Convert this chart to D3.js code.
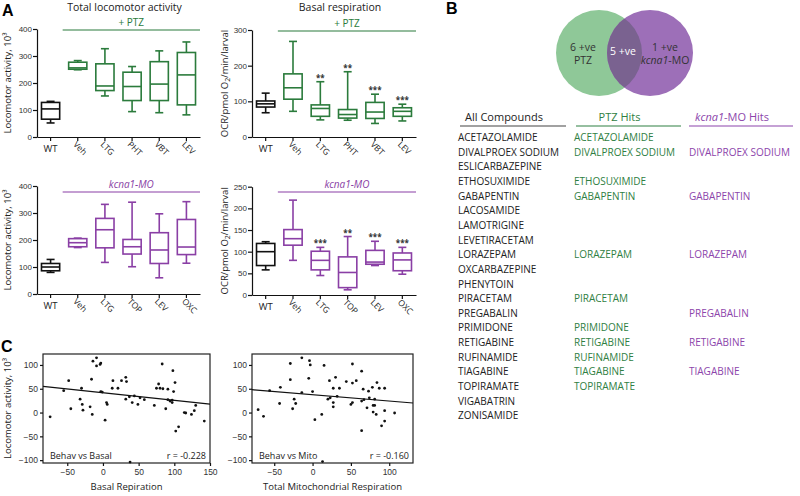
<!DOCTYPE html>
<html>
<head>
<meta charset="utf-8">
<script src="https://cdn.jsdelivr.net/npm/d3@7"></script>
<style>
  body { margin: 0; background: #fff; }
  svg { font-family: "Open Sans", sans-serif; }
  .axis path, .axis line { stroke: #111; stroke-width: 1.2; }
  .axis text { fill: #333; }
</style>
</head>
<body>
<div id="fig"></div>
<script>
// ----------------------------- DATA -----------------------------------------
// box plots: [min, q1, median, q3, max]
var ptzCats = ["WT", "Veh", "LTG", "PHT", "VBT", "LEV"];
var moCats = ["WT", "Veh", "LTG", "TOP", "LEV", "OXC"];

var ptzLoco = [[52, 66, 104, 128, 132], [249, 251, 256, 277, 283], [152, 172, 189, 271, 327],
               [94, 135, 187, 240, 261], [90, 135, 196, 279, 319], [82, 119, 230, 313, 352]];
var ptzBasal = [[68, 84, 93, 101, 123], [72, 106, 138, 177, 268], [48, 58, 80, 90, 155],
                [47, 53, 63, 77, 183], [38, 52, 70, 97, 120], [45, 58, 72, 82, 92]];
var ptzBasalStars = ["", "", "**", "**", "***", "***"];

var moLoco = [[80, 86, 100, 113, 128], [172, 175, 190, 205, 207], [117, 171, 238, 280, 332],
              [101, 148, 175, 202, 340], [60, 113, 163, 227, 297], [114, 146, 174, 276, 342]];
var moBasal = [[58, 68, 100, 119, 123], [80, 115, 130, 151, 219], [45, 58, 80, 101, 110],
               [12, 17, 52, 88, 135], [68, 71, 76, 103, 124], [48, 56, 81, 97, 110]];
var moBasalStars = ["", "", "***", "**", "***", "***"];

// scatter: [respiration, locomotor]
var basalPts = [[-74, -9], [-55, 46], [-48, 67], [-45, 8], [-32, 28], [-30, 51], [-29, 17], [-28, 5],
  [-18, 12], [-16, 70], [-15, -4], [-14, 108], [-9, 115], [-9, 98], [-4, 101], [-3, 104], [-3, 44],
  [-1, 43], [3, -16], [5, 21], [6, 17], [13, 51], [14, 67], [21, 51], [26, 67], [32, 74], [33, 65],
  [32, 28], [37, 33], [38, -104], [41, 21], [44, 35], [49, 17], [52, 31], [58, 27], [72, 15], [75, 51],
  [78, 60], [80, 51], [83, 102], [84, 50], [88, 8], [91, 49], [91, 27], [94, 24], [97, 26], [97, 21],
  [98, 88], [99, 44], [101, 63], [102, -39], [106, -30], [114, 0], [116, -1], [124, -4], [128, 4],
  [130, 15], [142, -18]];
var mitoPts = [[-71, 6], [-64, -8], [-56, 46], [-43, 19], [-42, 53], [-29, 103], [-29, 69], [-26, 8],
  [-24, 28], [-22, 19], [-14, 42], [-14, 115], [-5, 72], [-4, 109], [-3, 100], [0, 44], [3, -15],
  [12, -4], [13, -103], [15, 99], [20, 28], [22, 67], [23, 31], [27, 51], [27, 21], [27, 12], [30, 74],
  [32, 34], [35, 51], [44, 65], [50, 17], [52, 102], [52, 62], [52, 21], [57, 67], [64, 87], [64, -38],
  [64, 24], [66, 49], [67, 27], [71, 10], [73, 45], [74, 31], [78, 53], [79, 1], [79, 15], [81, 28],
  [81, 15], [83, -4], [84, 63], [87, 51], [90, -28], [94, 51], [94, -18], [94, 4], [107, -1]];
var basalFit = [41.6, -0.159];   // intercept, slope
var mitoFit = [37.5, -0.133];

// venn
var vennLeft = ["6 +ve", "PTZ"];
var vennMid = "5 +ve";
var vennRight = "1 +ve";

// compound table
var allCompounds = ["ACETAZOLAMIDE", "DIVALPROEX SODIUM", "ESLICARBAZEPINE", "ETHOSUXIMIDE",
  "GABAPENTIN", "LACOSAMIDE", "LAMOTRIGINE", "LEVETIRACETAM", "LORAZEPAM", "OXCARBAZEPINE",
  "PHENYTOIN", "PIRACETAM", "PREGABALIN", "PRIMIDONE", "RETIGABINE", "RUFINAMIDE", "TIAGABINE",
  "TOPIRAMATE", "VIGABATRIN", "ZONISAMIDE"];
var ptzHits = ["ACETAZOLAMIDE", "DIVALPROEX SODIUM", "", "ETHOSUXIMIDE", "GABAPENTIN", "", "", "",
  "LORAZEPAM", "", "", "PIRACETAM", "", "PRIMIDONE", "RETIGABINE", "RUFINAMIDE", "TIAGABINE",
  "TOPIRAMATE", "", ""];
var moHits = ["", "DIVALPROEX SODIUM", "", "", "GABAPENTIN", "", "", "", "LORAZEPAM", "", "", "",
  "PREGABALIN", "", "RETIGABINE", "", "TIAGABINE", "", "", ""];

// ----------------------------- SET UP ---------------------------------------
var green = "#2b7b3c", purple = "#8a3fa5", black = "#111";

var svg = d3.select("#fig").append("svg")
  .attr("width", 800)
  .attr("height", 496);

// panel letters
[["A", 2, 16], ["B", 446, 14], ["C", 1, 352]].forEach(function(p) {
  svg.append("text")
    .attr("x", p[1]).attr("y", p[2])
    .style("font-family", "'Liberation Sans', Arial, sans-serif")
    .style("font-weight", "bold")
    .style("font-size", "16px")
    .text(p[0]);
});

// ----------------------------- BOX PLOTS ------------------------------------
function boxPanel(o) {
  var g = svg.append("g");

  var x = d3.scaleBand()
    .domain(o.cats)
    .range([o.left, o.right])
    .paddingInner(0.33)
    .paddingOuter(0.165);

  var y = d3.scaleLinear()
    .domain([0, o.max])
    .range([o.bottom, o.top]);

  // y axis
  g.append("g")
    .attr("class", "axis")
    .attr("transform", `translate(${o.left},0)`)
    .call(d3.axisLeft(y).tickValues(o.ticks).tickSize(4).tickPadding(1).tickSizeOuter(0))
    .selectAll("text").style("font-size", "8px");

  // x axis
  var xa = g.append("g")
    .attr("class", "axis")
    .attr("transform", `translate(0,${o.bottom})`)
    .call(d3.axisBottom(x).tickSize(4).tickSizeOuter(0));
  xa.selectAll("text").remove();

  o.cats.forEach(function(c, i) {
    var cx = x(c) + x.bandwidth() / 2;
    if (i === 0) {
      g.append("text")
        .attr("x", cx).attr("y", o.bottom + 15)
        .attr("text-anchor", "middle")
        .style("font-size", "9.5px").style("fill", "#222")
        .text(c);
    } else {
      g.append("text")
        .attr("transform", `translate(${cx - 5},${o.bottom + 8}) rotate(45)`)
        .style("font-size", "8.5px").style("fill", "#222")
        .text(c);
    }
  });

  // boxes
  var bw = x.bandwidth();
  o.data.forEach(function(d, i) {
    var c = o.cats[i];
    var col = i === 0 ? black : o.color;
    var x0 = x(c), cx = x0 + bw / 2;
    var bg = g.append("g")
      .style("stroke", col).style("stroke-width", 1.6).style("fill", "none");
    // whiskers
    bg.append("line").attr("x1", cx).attr("x2", cx).attr("y1", y(d[0])).attr("y2", y(d[1]));
    bg.append("line").attr("x1", cx).attr("x2", cx).attr("y1", y(d[3])).attr("y2", y(d[4]));
    bg.append("line").attr("x1", cx - 4).attr("x2", cx + 4).attr("y1", y(d[0])).attr("y2", y(d[0]));
    bg.append("line").attr("x1", cx - 4).attr("x2", cx + 4).attr("y1", y(d[4])).attr("y2", y(d[4]));
    // box and median
    bg.append("rect")
      .attr("x", x0).attr("width", bw)
      .attr("y", y(d[3])).attr("height", y(d[1]) - y(d[3]));
    bg.append("line").attr("x1", x0).attr("x2", x0 + bw).attr("y1", y(d[2])).attr("y2", y(d[2]));

    if (o.stars && o.stars[i]) {
      g.append("text")
        .attr("x", cx).attr("y", y(d[4]) - 1)
        .attr("text-anchor", "middle")
        .style("font-size", "8px").style("font-weight", "bold").style("fill", "#333")
        .text(o.stars[i]);
    }
  });

  // treatment line and label
  var lx0 = x(o.cats[1]) - 6;
  g.append("line")
    .attr("x1", lx0).attr("x2", o.right)
    .attr("y1", o.lineY).attr("y2", o.lineY)
    .style("stroke", o.color).style("stroke-width", 1.2);
  var lab = g.append("text")
    .attr("x", (lx0 + o.right) / 2).attr("y", o.lineY - 4)
    .attr("text-anchor", "middle")
    .style("font-size", "10px").style("fill", o.color);
  if (o.group === "mo") {
    lab.style("font-style", "italic").text("kcna1-MO");
  } else {
    lab.text("+ PTZ");
  }

  // panel title
  if (o.title) {
    g.append("text")
      .attr("x", (o.left + o.right) / 2 + 6).attr("y", 11)
      .attr("text-anchor", "middle")
      .style("font-size", "10.5px").style("fill", "#222")
      .text(o.title);
  }

  // y label
  var yl = g.append("text")
    .attr("transform", `translate(${o.ylabX},${(o.top + o.bottom) / 2}) rotate(-90)`)
    .attr("text-anchor", "middle")
    .style("font-size", "9.5px").style("fill", "#222");
  if (o.ylab === "ocr") {
    yl.append("tspan").text("OCR/pmol O");
    yl.append("tspan").attr("dy", 2).style("font-size", "7px").text("2");
    yl.append("tspan").attr("dy", -2).text("/min/larval");
  } else {
    yl.text("Locomotor activity, 10³");
  }
}

boxPanel({cats: ptzCats, data: ptzLoco, left: 37, right: 200, top: 29, bottom: 137, max: 400,
  ticks: [0, 100, 200, 300, 400], color: green, lineY: 30, title: "Total locomotor activity",
  ylab: "loco", ylabX: 11});
boxPanel({cats: ptzCats, data: ptzBasal, left: 252, right: 416, top: 30, bottom: 137, max: 300,
  ticks: [0, 100, 200, 300], color: green, lineY: 31, title: "Basal respiration",
  ylab: "ocr", ylabX: 228, stars: ptzBasalStars});
boxPanel({cats: moCats, data: moLoco, left: 37, right: 200, top: 186, bottom: 294, max: 400,
  ticks: [0, 100, 200, 300, 400], color: purple, lineY: 192, group: "mo",
  ylab: "loco", ylabX: 11});
boxPanel({cats: moCats, data: moBasal, left: 252, right: 416, top: 186.7, bottom: 295, max: 250,
  ticks: [0, 50, 100, 150, 200, 250], color: purple, lineY: 192, group: "mo",
  ylab: "ocr", ylabX: 228, stars: moBasalStars});

// ----------------------------- SCATTER --------------------------------------
function scatterPanel(o) {
  var g = svg.append("g");
  var x = d3.scaleLinear().domain(o.xDomain).range([o.left, o.right]);
  var y = d3.scaleLinear().domain([-106, 123]).range([o.bottom, o.top]);

  g.append("rect")
    .attr("x", o.left).attr("y", o.top)
    .attr("width", o.right - o.left).attr("height", o.bottom - o.top)
    .style("fill", "none").style("stroke", "#222").style("stroke-width", 1.2);

  g.append("g").attr("class", "axis")
    .attr("transform", `translate(${o.left},0)`)
    .call(d3.axisLeft(y).tickValues([-100, -50, 0, 50, 100]).tickSize(3).tickPadding(2).tickSizeOuter(0))
    .call(a => a.select(".domain").remove())
    .selectAll("text").style("font-size", "8.5px");

  g.append("g").attr("class", "axis")
    .attr("transform", `translate(0,${o.bottom})`)
    .call(d3.axisBottom(x).tickValues(o.xTicks).tickSize(3).tickPadding(3).tickSizeOuter(0))
    .call(a => a.select(".domain").remove())
    .selectAll("text").style("font-size", "8.5px");

  // regression line
  var xd = x.domain();
  g.append("line")
    .attr("x1", x(xd[0])).attr("y1", y(o.fit[0] + o.fit[1] * xd[0]))
    .attr("x2", x(xd[1])).attr("y2", y(o.fit[0] + o.fit[1] * xd[1]))
    .style("stroke", "#111").style("stroke-width", 1.2);

  g.selectAll(null)
    .data(o.pts)
    .enter()
    .append("circle")
      .attr("cx", d => x(d[0]))
      .attr("cy", d => y(d[1]))
      .attr("r", 1.4)
      .style("fill", "#111");

  g.append("text")
    .attr("x", o.left + 7).attr("y", o.bottom - 4)
    .style("font-size", "9px").style("fill", "#222")
    .text(o.label);
  g.append("text")
    .attr("x", o.right - 4).attr("y", o.bottom - 4)
    .attr("text-anchor", "end")
    .style("font-size", "9px").style("fill", "#222")
    .text(o.r);

  g.append("text")
    .attr("x", (o.left + o.right) / 2).attr("y", 490)
    .attr("text-anchor", "middle")
    .style("font-size", "9.5px").style("fill", "#222")
    .text(o.xlab);

  if (o.ylab) {
    g.append("text")
      .attr("transform", `translate(11,${(o.top + o.bottom) / 2}) rotate(-90)`)
      .attr("text-anchor", "middle")
      .style("font-size", "9.5px").style("fill", "#222")
      .text("Locomotor activity, 10³");
  }
}

scatterPanel({left: 43, right: 210, top: 354, bottom: 463, xDomain: [-84, 150],
  xTicks: [-50, 0, 50, 100, 150], pts: basalPts, fit: basalFit,
  label: "Behav vs Basal", r: "r = -0.228", xlab: "Basal Repiration", ylab: true});
scatterPanel({left: 252, right: 413, top: 354, bottom: 463, xDomain: [-79, 131],
  xTicks: [-50, 0, 50, 100], pts: mitoPts, fit: mitoFit,
  label: "Behav vs Mito", r: "r = -0.160", xlab: "Total Mitochondrial Respiration"});

// ----------------------------- VENN -----------------------------------------
var venn = svg.append("g");
var cL = {x: 599, y: 53, r: 43}, cR = {x: 650, y: 53, r: 43};

venn.append("circle").attr("cx", cL.x).attr("cy", cL.y).attr("r", cL.r).style("fill", "#8fc898");
venn.append("circle").attr("cx", cR.x).attr("cy", cR.y).attr("r", cR.r).style("fill", "#9d6fb8");
svg.append("clipPath").attr("id", "clipL")
  .append("circle").attr("cx", cL.x).attr("cy", cL.y).attr("r", cL.r);
venn.append("circle").attr("cx", cR.x).attr("cy", cR.y).attr("r", cR.r)
  .attr("clip-path", "url(#clipL)")
  .style("fill", "#7a6290");

venn.append("text").attr("x", 583).attr("y", 51).attr("text-anchor", "middle")
  .style("font-size", "10.5px").style("fill", "#333").text(vennLeft[0]);
venn.append("text").attr("x", 583).attr("y", 64).attr("text-anchor", "middle")
  .style("font-size", "10.5px").style("fill", "#333").text(vennLeft[1]);
venn.append("text").attr("x", 623).attr("y", 55).attr("text-anchor", "middle")
  .style("font-size", "10.5px").style("fill", "#fff").text(vennMid);
venn.append("text").attr("x", 665).attr("y", 51).attr("text-anchor", "middle")
  .style("font-size", "10.5px").style("fill", "#333").text(vennRight);
var kt = venn.append("text").attr("x", 665).attr("y", 64).attr("text-anchor", "middle")
  .style("font-size", "10.5px").style("fill", "#333");
kt.append("tspan").style("font-style", "italic").text("kcna1");
kt.append("tspan").text("-MO");

// ----------------------------- TABLE ----------------------------------------
var rowY = d3.scaleLinear().domain([0, 1]).range([141, 155.65]);
var cols = [
  {x: 458, list: allCompounds, color: "#222", head: "All Compounds", line: [460, 566]},
  {x: 574, list: ptzHits, color: "#2f8042", head: "PTZ Hits", line: [576, 681]},
  {x: 689, list: moHits, color: "#8c45ab", head: "kcna1-MO Hits", line: [689, 793]}
];
var table = svg.append("g");
cols.forEach(function(c, ci) {
  var h = table.append("text")
    .attr("x", (c.line[0] + c.line[1]) / 2 - 9).attr("y", 121)
    .attr("text-anchor", "middle")
    .style("font-size", "11px").style("fill", c.color);
  if (ci === 2) {
    h.append("tspan").style("font-style", "italic").text("kcna1");
    h.append("tspan").text("-MO Hits");
  } else {
    h.text(c.head);
  }
  table.append("line")
    .attr("x1", c.line[0]).attr("x2", c.line[1])
    .attr("y1", 126).attr("y2", 126)
    .style("stroke", ci === 0 ? "#444" : c.color).style("stroke-width", 1.2);
  table.selectAll(null)
    .data(c.list)
    .enter()
    .append("text")
      .attr("x", c.x)
      .attr("y", (d, i) => rowY(i))
      .style("font-size", "10px")
      .style("fill", c.color)
      .text(d => d);
});
</script>
</body>
</html>
